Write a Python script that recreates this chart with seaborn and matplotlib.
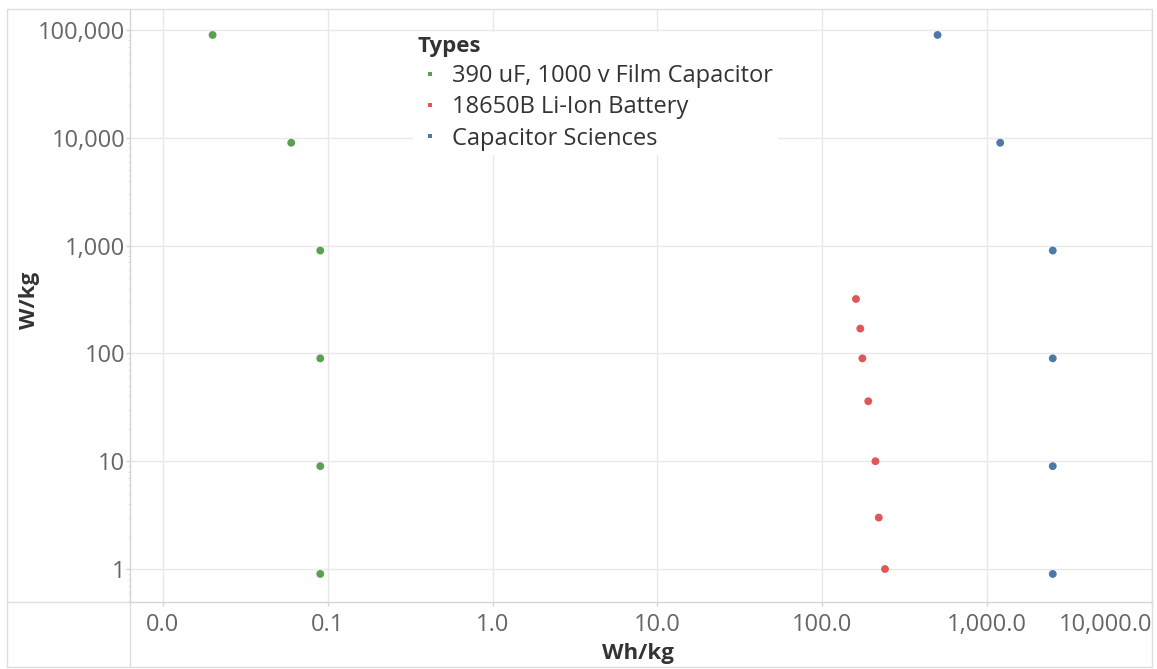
import numpy as np
import pandas as pd
import seaborn as sns
import matplotlib.pyplot as plt
from matplotlib.lines import Line2D
from matplotlib.ticker import FuncFormatter, LogLocator, NullFormatter

# Dados
film_wh = [0.02, 0.06, 0.09, 0.09, 0.09, 0.09]
film_w = [90000, 9000, 900, 90, 9, 0.9]
battery_wh = [160, 170, 175, 190, 210, 220, 240]
battery_w = [320, 170, 90, 36, 10, 3, 1]
capsci_wh = [500, 1200, 2500, 2500, 2500, 2500]
capsci_w = [90000, 9000, 900, 90, 9, 0.9]

types = ["390 uF, 1000 v Film Capacitor", "18650B Li-Ion Battery", "Capacitor Sciences"]
colors = ["#59a14f", "#e15759", "#4e79a7"]
xticks = [0.01, 0.1, 1, 10, 100, 1000, 10000]
yticks = [1, 10, 100, 1000, 10000, 100000]

df = pd.DataFrame({
    "Wh/kg": film_wh + battery_wh + capsci_wh,
    "W/kg": film_w + battery_w + capsci_w,
    "Types": [types[0]] * len(film_wh) + [types[1]] * len(battery_wh) + [types[2]] * len(capsci_wh),
})

sns.set_style("white")
plt.rcParams["font.family"] = ["Open Sans", "DejaVu Sans"]

fig = plt.figure(figsize=(11.57, 6.69), dpi=100)
ax = fig.add_axes([130 / 1157, 1 - 602 / 669, 1022 / 1157, 593 / 669])

sns.scatterplot(data=df, x="Wh/kg", y="W/kg", hue="Types", hue_order=types,
                palette=colors, s=32, linewidth=0, ax=ax, legend=False, zorder=3)

ax.set_xscale("log")
ax.set_yscale("log")
ax.set_xlim(10 ** -2.2, 10 ** 3.994)
ax.set_ylim(10 ** -0.306, 10 ** 5.195)

ax.set_xticks(xticks)
ax.set_yticks(yticks)
ax.yaxis.set_minor_locator(LogLocator(base=10, subs=np.arange(2, 10)))
ax.yaxis.set_minor_formatter(NullFormatter())
ax.xaxis.set_minor_locator(LogLocator(base=10, subs=np.arange(2, 10)))
ax.xaxis.set_minor_formatter(NullFormatter())
ax.xaxis.set_major_formatter(FuncFormatter(lambda v, p: f"{v:,.1f}"))
ax.yaxis.set_major_formatter(FuncFormatter(lambda v, p: f"{v:,.0f}"))

ax.grid(True, which="major", color="#e8e8e8", linewidth=1, zorder=0)
ax.set_axisbelow(True)
for side in ["top", "right"]:
    ax.spines[side].set_visible(False)
for side in ["left", "bottom"]:
    ax.spines[side].set_color("#d4d4d4")
    ax.spines[side].set_linewidth(1)

ax.tick_params(axis="y", which="major", left=True, length=3, width=1, color="#d4d4d4",
               labelsize=17, labelcolor="#666666", pad=0.5)
ax.tick_params(axis="y", which="minor", left=True, length=1.5, width=0.6, color="#dcdcdc")
ax.tick_params(axis="x", which="major", bottom=True, length=3, width=1, color="#d4d4d4",
               labelsize=17, labelcolor="#666666", pad=5)
ax.tick_params(axis="x", which="minor", bottom=False)

xlabels = ax.get_xticklabels()
xlabels[-1].set_horizontalalignment("right")

ax.set_xlabel("Wh/kg", fontsize=16, fontweight="bold", color="#333333", va="center")
ax.set_ylabel("W/kg", fontsize=16, fontweight="bold", color="#333333", va="center")
ax.yaxis.set_label_coords(-100 / 1022, (602 - 300) / 593)
ax.xaxis.set_label_coords((638 - 130) / 1022, -(654 - 602) / 593)

# Legenda no estilo Tableau
handles = [Line2D([0], [0], marker="s", linestyle="none", markersize=3.5,
                  markerfacecolor=c, markeredgewidth=0) for c in colors]
leg = ax.legend(handles, types, title="Types", loc="upper left",
                bbox_to_anchor=(0.277, 0.962), frameon=True, fontsize=17,
                title_fontproperties={"weight": "bold", "size": 16},
                labelspacing=0.3, handletextpad=0.45, handlelength=1.0,
                borderpad=0.2, borderaxespad=0)
leg.get_frame().set_facecolor("white")
leg.get_frame().set_edgecolor("none")
leg.get_frame().set_alpha(1)
leg._legend_box.align = "left"
for t in leg.get_texts():
    t.set_color("#333333")
leg.get_title().set_color("#333333")
leg.set_zorder(5)

# Moldura externa
fc = "#dedede"
fig.add_artist(Line2D([7 / 1157, 1152 / 1157], [1 - 9 / 669, 1 - 9 / 669], color=fc, lw=1))
fig.add_artist(Line2D([7 / 1157, 7 / 1157], [1 - 9 / 669, 1 - 667 / 669], color=fc, lw=1))
fig.add_artist(Line2D([1152 / 1157, 1152 / 1157], [1 - 9 / 669, 1 - 667 / 669], color=fc, lw=1))
fig.add_artist(Line2D([7 / 1157, 1152 / 1157], [1 - 667 / 669, 1 - 667 / 669], color=fc, lw=1))
fig.add_artist(Line2D([130 / 1157, 130 / 1157], [1 - 602 / 669, 1 - 667 / 669], color=fc, lw=1))
fig.add_artist(Line2D([7 / 1157, 130 / 1157], [1 - 602 / 669, 1 - 602 / 669], color=fc, lw=1))

fig.savefig("out.png", dpi=100)
